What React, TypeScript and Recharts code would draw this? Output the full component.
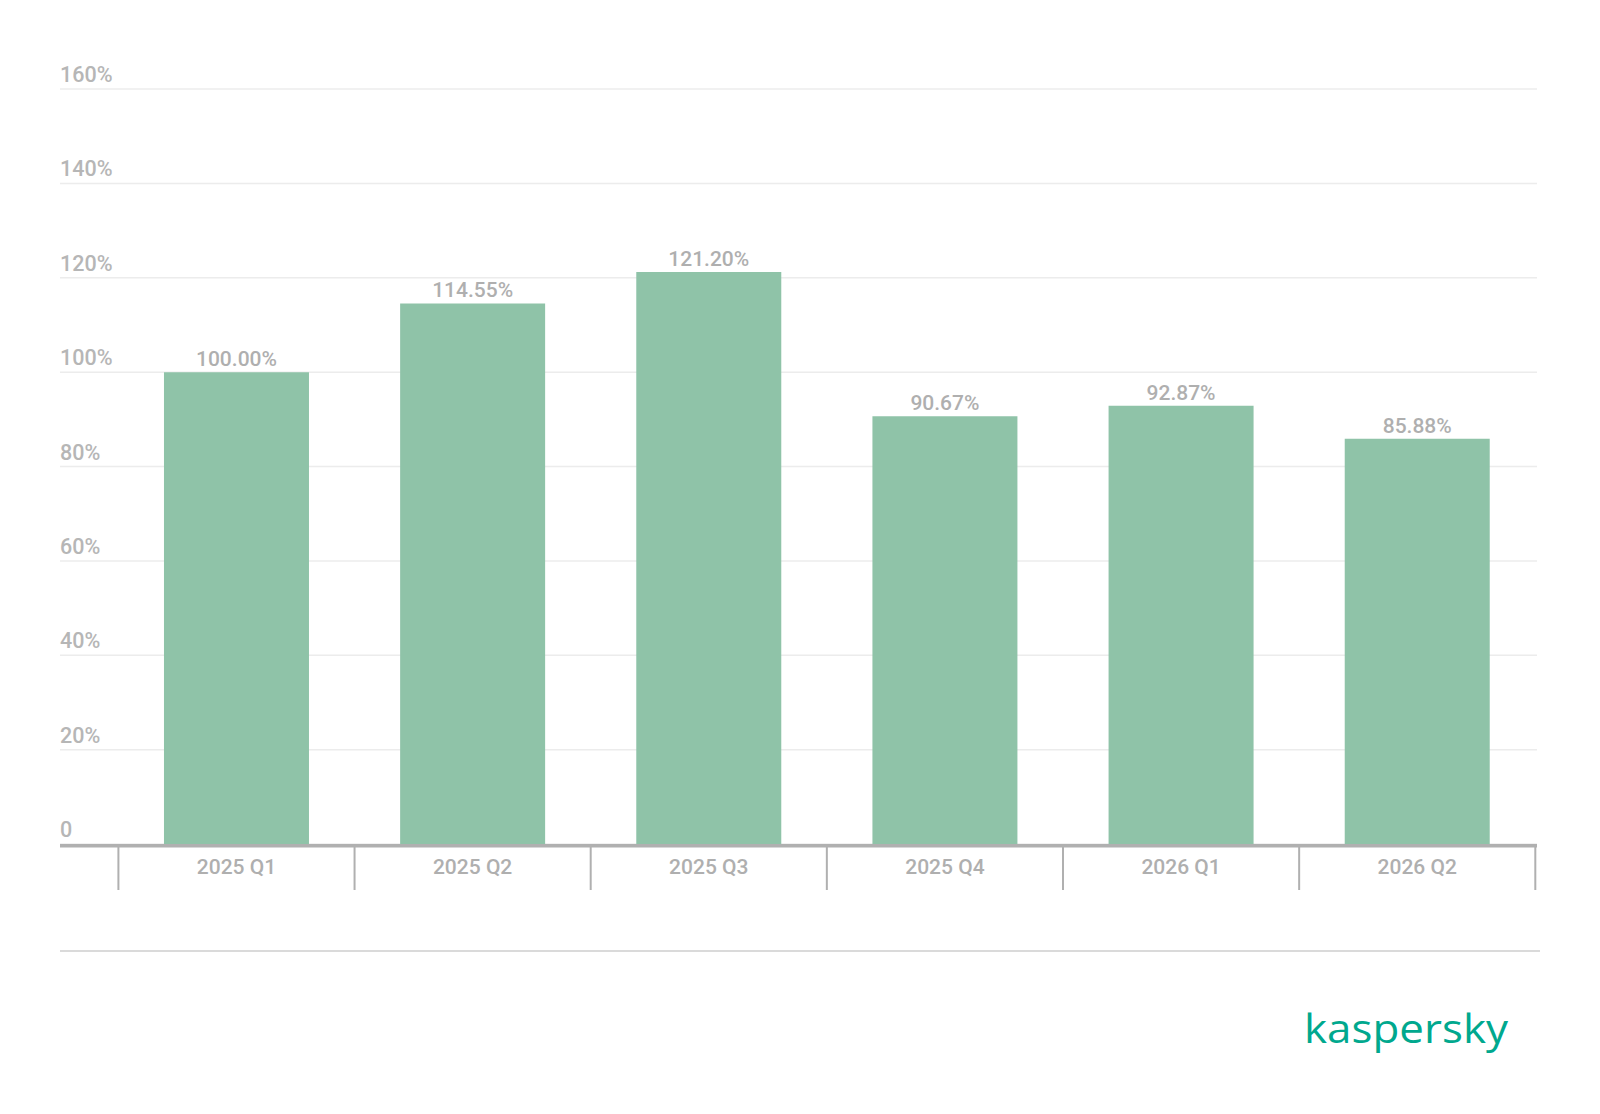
import React from 'react';
import { BarChart, Bar, XAxis, YAxis, CartesianGrid, LabelList } from 'recharts';

const categories = ['2025 Q1', '2025 Q2', '2025 Q3', '2025 Q4', '2026 Q1', '2026 Q2'];
const values = [100.0, 114.55, 121.2, 90.67, 92.87, 85.88];
const yTicks = [0, 20, 40, 60, 80, 100, 120, 140, 160];

const data = categories.map((c, i) => ({ name: c, value: values[i] }));

const GRAY_TEXT = '#afafaf';
const AXIS_GRAY = '#b0b0b0';
const FONT = 'Roboto, sans-serif';

const YTick = (props: any) => {
  const { x, y, payload } = props;
  const v = payload.value;
  return (
    <text x={x} y={y - 7} textAnchor="start" fill="#b6b6b6" fontSize={21.5} fontFamily={FONT} fontWeight={500}>
      {v === 0 ? '0' : `${v}%`}
    </text>
  );
};

const XTick = (props: any) => {
  const { x, y, payload, index } = props;
  const half = typeof payload.offset === 'number' && payload.offset > 0 ? payload.offset : 118;
  const last = index === categories.length - 1;
  return (
    <g>
      <text x={x} y={y + 30} textAnchor="middle" fill={GRAY_TEXT} fontSize={21} fontFamily={FONT} fontWeight={500}>
        {payload.value}
      </text>
      <line x1={x - half} x2={x - half} y1={y + 3} y2={y + 46} stroke={AXIS_GRAY} strokeWidth={2} />
      {last && <line x1={x + half} x2={x + half} y1={y + 3} y2={y + 46} stroke={AXIS_GRAY} strokeWidth={2} />}
    </g>
  );
};

export default function App() {
  return (
    <div style={{ position: 'absolute', left: 0, top: 0, width: 1600, height: 1114, background: '#fff' }}>
      <BarChart
        width={1600}
        height={1114}
        data={data}
        margin={{ top: 89, left: 0, right: 63, bottom: 220 }}
        barCategoryGap="19.3%"
        style={{ fontFamily: FONT }}
      >
        <CartesianGrid vertical={false} stroke="#ececec" strokeWidth={1.5} />
        <YAxis
          width={60}
          domain={[0, 160]}
          ticks={yTicks}
          interval={0}
          axisLine={false}
          tickLine={false}
          tickSize={0}
          tickMargin={0}
          tick={<YTick />}
        />
        <XAxis
          dataKey="name"
          height={50}
          padding={{ left: 58.4, right: 1.7 }}
          axisLine={{ stroke: AXIS_GRAY, strokeWidth: 3.4, transform: 'translate(0,1.7)' }}
          tickLine={false}
          tickSize={0}
          tickMargin={0}
          interval={0}
          tick={<XTick />}
        />
        <Bar dataKey="value" fill="#8fc3a8" isAnimationActive={false}>
          <LabelList
            dataKey="value"
            position="top"
            offset={6}
            fill={GRAY_TEXT}
            fontSize={21}
            fontWeight={500}
            fontFamily={FONT}
            formatter={(v: any) => `${Number(v).toFixed(2)}%`}
          />
        </Bar>
      </BarChart>
      <div style={{ position: 'absolute', left: 60, top: 950, width: 1480, height: 2, background: '#dadada' }} />
      <svg style={{ position: 'absolute', left: 1300, top: 1000 }} width={220} height={60}>
        <text x={4} y={43} fill="#00a88e" fontSize={41} fontFamily="'Open Sans', sans-serif" textLength={204} lengthAdjust="spacingAndGlyphs">
          kaspersky
        </text>
      </svg>
    </div>
  );
}
